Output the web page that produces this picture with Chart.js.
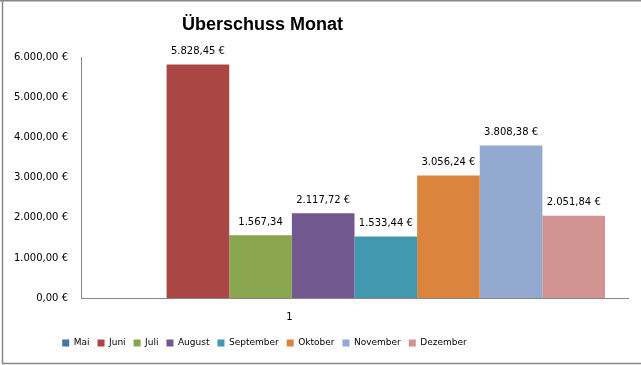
<!DOCTYPE html>
<html>
<head>
<meta charset="utf-8">
<script src="https://cdn.jsdelivr.net/npm/chart.js@4"></script>
<style>
  body { margin: 0; background: #fff; }
</style>
</head>
<body>
<canvas id="surplus" width="641" height="365"></canvas>
<script>
const categories = ['1'];
const months = ['Mai', 'Juni', 'Juli', 'August', 'September', 'Oktober', 'November', 'Dezember'];
const surplus = [null, 5828.45, 1567.34, 2117.72, 1533.44, 3056.24, 3808.38, 2051.84];
const barLabels = ['', '5.828,45 €', '1.567,34', '2.117,72 €', '1.533,44 €', '3.056,24 €', '3.808,38 €', '2.051,84 €'];
const colors = ['#4572A7', '#AA4643', '#89A54E', '#71588F', '#4198AF', '#DB843D', '#93A9CF', '#D19392'];
const yMax = 6000;
const yStep = 1000;

const axisGray = '#868686';

// frame + value labels like the excel export
const excelLook = {
  id: 'excelLook',
  afterLayout(chart) {
    // title and legend sit left of center in the original
    chart.titleBlock.left -= 57;
    chart.titleBlock.right -= 57;
    chart.legend.left -= 55;
    chart.legend.right -= 55;
  },
  beforeDraw(chart) {
    const c = chart.ctx;
    c.save();
    c.strokeStyle = '#888';
    c.lineWidth = 1.5;
    c.beginPath();
    c.moveTo(0, 0.75);
    c.lineTo(chart.width, 0.75);
    c.moveTo(2.5, 0);
    c.lineTo(2.5, 363.5);
    c.lineTo(chart.width, 363.5);
    c.stroke();
    c.restore();
  },
  afterDatasetsDraw(chart) {
    const c = chart.ctx;
    c.save();
    c.font = '10px "DejaVu Sans"';
    c.fillStyle = '#000';
    c.textAlign = 'center';
    c.textBaseline = 'middle';
    chart.data.datasets.forEach((ds, i) => {
      const bar = chart.getDatasetMeta(i).data[0];
      if (!barLabels[i] || !bar) return;
      c.fillText(barLabels[i], bar.x, bar.y - 13);
    });
    c.restore();
  }
};

new Chart(document.getElementById('surplus'), {
  type: 'bar',
  data: {
    labels: categories,
    datasets: months.map((m, i) => ({
      label: m,
      data: [surplus[i]],
      backgroundColor: colors[i],
      borderWidth: 0,
      categoryPercentage: 0.916,
      barPercentage: 1
    }))
  },
  options: {
    responsive: false,
    animation: false,
    layout: {
      padding: { left: 11, right: 13, top: 0, bottom: 7.5 }
    },
    scales: {
      x: {
        grid: { display: false, drawTicks: false },
        border: { color: axisGray },
        ticks: {
          color: '#000',
          font: { family: 'DejaVu Sans', size: 10 },
          padding: 13,
          labelOffset: -65
        },
        afterFit(scale) { scale.height = 32.5; }
      },
      y: {
        min: 0,
        max: yMax,
        grid: { display: false, drawTicks: false },
        border: { color: axisGray },
        ticks: {
          stepSize: yStep,
          color: '#000',
          font: { family: 'DejaVu Sans', size: 10 },
          padding: 13,
          callback: v => v.toLocaleString('de-DE', { minimumFractionDigits: 2, maximumFractionDigits: 2 }) + ' €'
        },
        afterFit(scale) { scale.width = 70; }
      }
    },
    plugins: {
      title: {
        display: true,
        text: 'Überschuss Monat',
        color: '#000',
        font: { family: 'Liberation Sans', weight: 'bold', size: 18 },
        padding: { top: 14, bottom: 22 }
      },
      legend: {
        position: 'bottom',
        labels: {
          boxWidth: 7,
          boxHeight: 7,
          padding: 8,
          color: '#000',
          font: { family: 'DejaVu Sans', size: 9 }
        }
      },
      tooltip: { enabled: false }
    }
  },
  plugins: [excelLook]
});
</script>
</body>
</html>
